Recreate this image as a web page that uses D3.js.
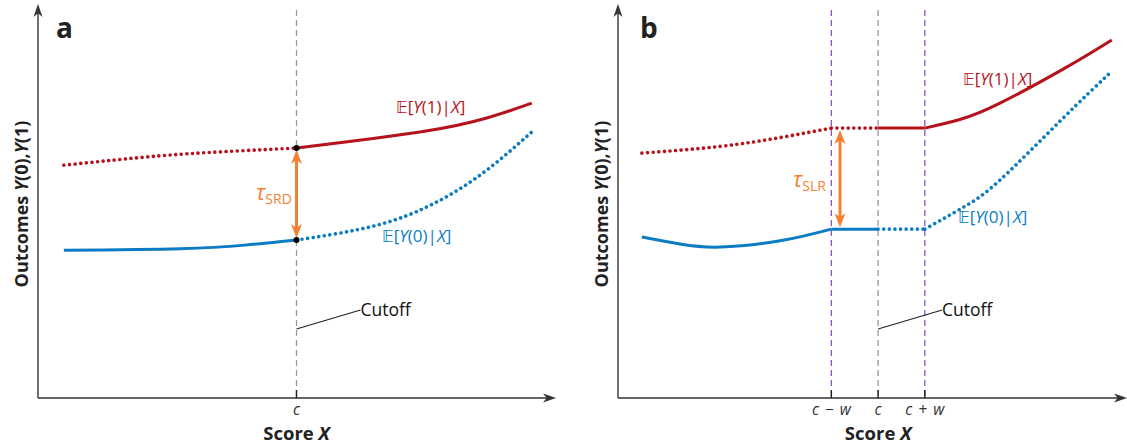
<!DOCTYPE html>
<html><head><meta charset="utf-8">
<script src="https://cdn.jsdelivr.net/npm/d3@7"></script>
<style>body{margin:0;background:#fff;} svg{display:block}</style>
</head><body><svg id="c" width="1127" height="444"></svg>
<script>
// ---------- data (x: score, y: outcome, both in 0..100 units) ----------
const panelNames = ["a", "b"];
const cutoffA = 50;
const cutoffB = 51.2;
const bandW = 9.2;
const ticksA = [{v: 50, label: "c"}];
const ticksB = [{v: 42.0, label: "c − w"}, {v: 51.2, label: "c"}, {v: 60.4, label: "c + w"}];

// Panel a (each series is a list of smooth pieces)
const redA_unobs = [[[5, 59.7], [23.6, 62.1], [38, 63.3], [50, 64.1]]];
const redA_obs   = [[[50, 64.1], [73.9, 68.2], [86.8, 71.8], [95.5, 75.6]]];
const blueA_obs  = [[[5, 37.9], [27.5, 38.3], [40, 39.2], [50, 40.5]]];
const blueA_unobs= [[[50, 40.5], [62, 43.2], [72.9, 47.6], [84.5, 56.2], [95.5, 68.2]]];

// Panel b
const redB_unobs = [[[4.7, 62.8], [20, 64.5], [32, 66.8], [42.0, 69.2]], [[42.0, 69.2], [51.2, 69.2]]];
const redB_obs   = [[[51.2, 69.2], [60.4, 69.2]], [[60.4, 69.2], [67.3, 71.4], [75.2, 75.6], [88.4, 84.9], [97.2, 91.8]]];
const blueB_obs  = [[[4.7, 41.3], [12.2, 39.5], [20.1, 38.7], [31.9, 40.3], [42.0, 43.3]], [[42.0, 43.3], [51.2, 43.3]]];
const blueB_unobs= [[[51.2, 43.3], [60.4, 43.3]], [[60.4, 43.3], [68.1, 49.0], [75.2, 55.9], [87.4, 71.5], [97.2, 83.8]]];

const tauA = {x: 50, y0: 64.1, y1: 40.5, sub: "SRD"};
const tauB = {x: 43.7, y0: 69.2, y1: 43.3, sub: "SLR"};

// ---------- styles ----------
const RED = "#b5121b", BLUE = "#0b7cc3", ORANGE = "#f4812f", PURPLE = "#8d52c9", GRAY = "#9a9a9a", AXIS = "#333";
const FONT = "'Open Sans', 'Noto Sans', sans-serif";

const svg = d3.select("#c");

function arrowHead(g, x, y, ang, L, W, color) {
  g.append("path")
    .attr("d", `M0,0 L${-L},${W/2} L${-L*0.72},0 L${-L},${-W/2} Z`)
    .attr("transform", `translate(${x},${y}) rotate(${ang})`)
    .attr("fill", color);
}

function panel(opts) {
  const g = svg.append("g");
  const x = d3.scaleLinear().domain([0, 100]).range([opts.x0, opts.x1]);
  const y = d3.scaleLinear().domain([0, 100]).range([398, 8]);
  const line = d3.line().x(d => x(d[0])).y(d => y(d[1])).curve(d3.curveNatural);

  // vertical dashed lines
  opts.vlines.forEach(v => {
    g.append("line").attr("x1", x(v.v)).attr("x2", x(v.v)).attr("y1", y(100) + 2).attr("y2", y(0))
      .attr("stroke", v.color).attr("stroke-width", 1.3).attr("stroke-dasharray", "6 4");
  });

  // axes
  g.append("line").attr("x1", x(0)).attr("x2", x(0)).attr("y1", y(0)).attr("y2", 10)
    .attr("stroke", AXIS).attr("stroke-width", 1.4);
  arrowHead(g, x(0), 4, -90, 13, 9, AXIS);
  g.append("line").attr("x1", x(0)).attr("x2", opts.axisEnd - 6).attr("y1", y(0)).attr("y2", y(0))
    .attr("stroke", AXIS).attr("stroke-width", 1.4);
  arrowHead(g, opts.axisEnd, y(0), 0, 13, 9, AXIS);

  // ticks
  opts.ticks.forEach(t => {
    g.append("line").attr("x1", x(t.v)).attr("x2", x(t.v)).attr("y1", y(0)).attr("y2", y(0) - 8)
      .attr("stroke", "#222").attr("stroke-width", 1.4);
    g.append("text").attr("x", x(t.v)).attr("y", 415).attr("text-anchor", "middle")
      .attr("font-family", FONT).attr("font-style", "italic").attr("font-size", 15.5).attr("fill", "#333")
      .attr("word-spacing", 2).text(t.label);
  });

  // curves
  const solid = (pieces, color) => pieces.forEach(data => g.append("path").attr("d", line(data)).attr("fill", "none")
    .attr("stroke", color).attr("stroke-width", 3));
  const dotted = (pieces, color) => {
    const d = pieces.map(p => line(p)).join(" ");
    g.append("path").attr("d", d).attr("fill", "none")
      .attr("stroke", color).attr("stroke-width", 3.6).attr("stroke-linecap", "round")
      .attr("stroke-dasharray", "0.01 5.6");
  };
  dotted(opts.redUnobs, RED);
  solid(opts.redObs, RED);
  solid(opts.blueObs, BLUE);
  dotted(opts.blueUnobs, BLUE);

  // orange double arrow
  const t = opts.tau;
  g.append("line").attr("x1", x(t.x)).attr("x2", x(t.x)).attr("y1", y(t.y0) + 8).attr("y2", y(t.y1) - 8)
    .attr("stroke", ORANGE).attr("stroke-width", 3);
  arrowHead(g, x(t.x), y(t.y0) + 2, -90, 14, 11, ORANGE);
  arrowHead(g, x(t.x), y(t.y1) - 2, 90, 14, 11, ORANGE);
  if (opts.dots) {
    [t.y0, t.y1].forEach(v => g.append("circle").attr("cx", x(t.x)).attr("cy", y(v)).attr("r", 3).attr("fill", "#000"));
  }
  const tt = g.append("text").attr("x", opts.tauLabel[0]).attr("y", opts.tauLabel[1])
    .attr("font-family", FONT).attr("fill", ORANGE);
  tt.append("tspan").attr("font-style", "italic").attr("font-size", 22).text("τ");
  tt.append("tspan").attr("font-size", 14).attr("dy", 4).text(t.sub);

  // expectation labels
  const eLabel = (pos, arg, color) => {
    const tx = g.append("text").attr("x", pos[0]).attr("y", pos[1]).attr("font-family", FONT)
      .attr("font-size", 17).attr("fill", color);
    tx.append("tspan").attr("font-family", "'DejaVu Sans', sans-serif").attr("font-size", 16).text("𝔼");
    tx.append("tspan").text("[");
    tx.append("tspan").attr("font-style", "italic").text("Y");
    tx.append("tspan").text(`(${arg})|`);
    tx.append("tspan").attr("font-style", "italic").text("X");
    tx.append("tspan").text("]");
  };
  eLabel(opts.red1Label, 1, RED);
  eLabel(opts.blue0Label, 0, BLUE);

  // cutoff annotation
  g.append("line").attr("x1", x(opts.cut)).attr("y1", 329).attr("x2", x(opts.cut) + 64).attr("y2", 310)
    .attr("stroke", "#222").attr("stroke-width", 1.2);
  g.append("text").attr("x", x(opts.cut) + 64).attr("y", 316).attr("font-family", FONT)
    .attr("font-size", 17.5).attr("fill", "#111").text("Cutoff");

  // axis titles
  const st = g.append("text").attr("x", x(opts.cut)).attr("y", 440).attr("text-anchor", "middle")
    .attr("font-family", FONT).attr("font-weight", 700).attr("font-size", 18.5).attr("fill", "#222");
  st.append("tspan").text("Score ");
  st.append("tspan").attr("font-style", "italic").text("X");

  const yt = g.append("text").attr("transform", `translate(${x(0) - 10},204) rotate(-90)`)
    .attr("text-anchor", "middle").attr("font-family", FONT).attr("font-weight", 700)
    .attr("font-size", 18).attr("fill", "#222");
  yt.append("tspan").text("Outcomes ");
  yt.append("tspan").attr("font-style", "italic").text("Y");
  yt.append("tspan").text("(0),");
  yt.append("tspan").attr("font-style", "italic").text("Y");
  yt.append("tspan").text("(1)");

  // panel letter
  g.append("text").attr("x", opts.letterX).attr("y", 38).attr("font-family", FONT).attr("font-weight", 700)
    .attr("font-size", 28).attr("fill", "#222").text(opts.name);
}

panel({
  name: panelNames[0], x0: 38, x1: 555, axisEnd: 556, cut: cutoffA, ticks: ticksA,
  vlines: [{v: cutoffA, color: GRAY}],
  redUnobs: redA_unobs, redObs: redA_obs, blueObs: blueA_obs, blueUnobs: blueA_unobs,
  tau: tauA, dots: true, tauLabel: [256, 200],
  red1Label: [396, 113], blue0Label: [382, 242], letterX: 56
});
panel({
  name: panelNames[1], x0: 618, x1: 1126, axisEnd: 1127, cut: cutoffB, ticks: ticksB,
  vlines: [{v: cutoffB - bandW, color: PURPLE}, {v: cutoffB, color: GRAY}, {v: cutoffB + bandW, color: PURPLE}],
  redUnobs: redB_unobs, redObs: redB_obs, blueObs: blueB_obs, blueUnobs: blueB_unobs,
  tau: tauB, dots: false, tauLabel: [793, 187],
  red1Label: [963, 85], blue0Label: [958, 223], letterX: 640
});
</script>
</body></html>
